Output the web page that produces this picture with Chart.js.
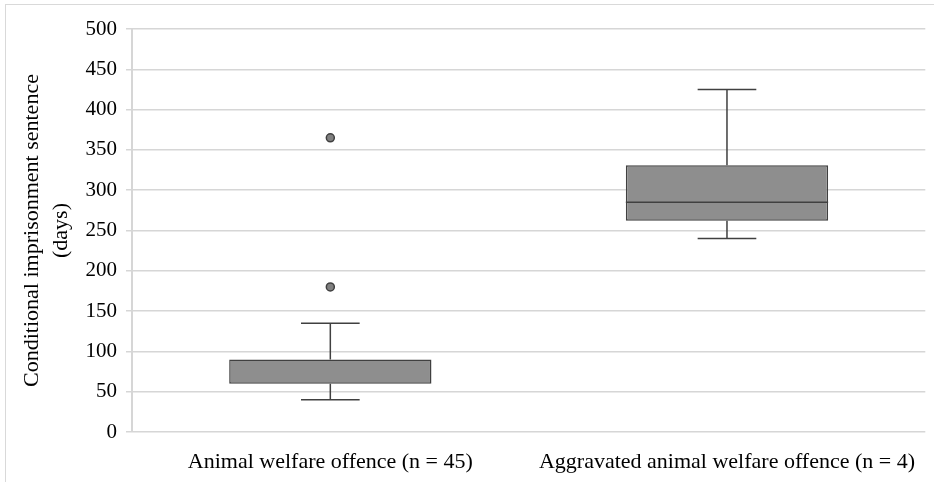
<!DOCTYPE html>
<html>
<head>
<meta charset="utf-8">
<script src="https://cdn.jsdelivr.net/npm/chart.js@4/dist/chart.umd.min.js"></script>
<style>
  body { margin: 0; background: #fff; }
  #wrap { position: relative; width: 934px; height: 482px; overflow: hidden; }
  #frame { position: absolute; left: 5px; top: 4px; width: 960px; height: 500px; border: 1px solid #d9d9d9; pointer-events: none; }
  canvas { position: absolute; left: 0; top: 0; }
</style>
</head>
<body>
<div id="wrap">
  <canvas id="box-chart" width="934" height="482"></canvas>
  <div id="frame"></div>
</div>
<script>
const categories = ["Animal welfare offence (n = 45)", "Aggravated animal welfare offence (n = 4)"];
const whiskerLow = [40, 240];
const q1 = [60, 262];
const median = [60, 285];
const q3 = [90, 331];
const whiskerHigh = [135, 425];
const outliers = [[365, 180], []];
const yTicks = [0, 50, 100, 150, 200, 250, 300, 350, 400, 450, 500];

const serif = "'Liberation Serif', 'Times New Roman', serif";
const darkLine = "#404040";

// whiskers, caps and median lines drawn on top of the boxes
const whiskerPlugin = {
  id: "whiskers",
  afterDatasetsDraw(chart) {
    const ctx = chart.ctx;
    const y = chart.scales.y;
    const bars = chart.getDatasetMeta(0).data;
    ctx.save();
    ctx.strokeStyle = darkLine;
    ctx.lineWidth = 1.5;
    bars.forEach((bar, i) => {
      const cx = bar.x;
      const half = bar.width / 2;
      const cap = bar.width * 0.145;
      ctx.beginPath();
      ctx.moveTo(cx, y.getPixelForValue(q3[i]));
      ctx.lineTo(cx, y.getPixelForValue(whiskerHigh[i]));
      ctx.moveTo(cx, y.getPixelForValue(q1[i]));
      ctx.lineTo(cx, y.getPixelForValue(whiskerLow[i]));
      ctx.moveTo(cx - cap, y.getPixelForValue(whiskerHigh[i]));
      ctx.lineTo(cx + cap, y.getPixelForValue(whiskerHigh[i]));
      ctx.moveTo(cx - cap, y.getPixelForValue(whiskerLow[i]));
      ctx.lineTo(cx + cap, y.getPixelForValue(whiskerLow[i]));
      if (median[i] !== q1[i] && median[i] !== q3[i]) {
        ctx.moveTo(cx - half, y.getPixelForValue(median[i]));
        ctx.lineTo(cx + half, y.getPixelForValue(median[i]));
      }
      ctx.stroke();
    });
    ctx.restore();
  },
};

const outlierPoints = [];
outliers.forEach((list, i) => {
  list.forEach((v) => outlierPoints.push({ x: categories[i], y: v }));
});

new Chart(document.getElementById("box-chart"), {
  type: "bar",
  data: {
    labels: categories,
    datasets: [
      {
        label: "IQR",
        data: q1.map((v, i) => [v, q3[i]]),
        backgroundColor: "#8e8e8e",
        borderColor: darkLine,
        borderWidth: 1.5,
        borderSkipped: false,
        categoryPercentage: 1,
        barPercentage: 0.51,
        order: 2,
      },
      {
        type: "line",
        label: "Outliers",
        data: outlierPoints,
        showLine: false,
        pointRadius: 4,
        pointBackgroundColor: "#808080",
        pointBorderColor: darkLine,
        pointBorderWidth: 1.5,
        order: 1,
      },
    ],
  },
  options: {
    responsive: false,
    animation: false,
    layout: { padding: { top: 29, right: 8, left: 0, bottom: 0 } },
    plugins: {
      legend: { display: false },
      tooltip: { enabled: false },
    },
    scales: {
      x: {
        grid: { display: false, drawTicks: false },
        border: { display: false },
        ticks: { color: "#000", font: { family: serif, size: 22 }, padding: 17 },
        afterFit(axis) { axis.height = 50; },
      },
      y: {
        min: 0,
        max: 500,
        afterBuildTicks(axis) { axis.ticks = yTicks.map((v) => ({ value: v })); },
        grid: { color: "#d6d6d6", lineWidth: 1.5, tickLength: 6, tickColor: "#d6d6d6" },
        border: { color: "#d6d6d6", width: 2 },
        ticks: { color: "#000", font: { family: serif, size: 21 }, padding: 9 },
        title: {
          display: true,
          text: ["Conditional imprisonment sentence", "(days)"],
          color: "#000",
          font: { family: serif, size: 22, lineHeight: 1.3 },
          padding: { top: 18, bottom: 0 },
        },
        afterFit(axis) { axis.width = 132; },
      },
    },
  },
  plugins: [whiskerPlugin],
});
</script>
</body>
</html>
